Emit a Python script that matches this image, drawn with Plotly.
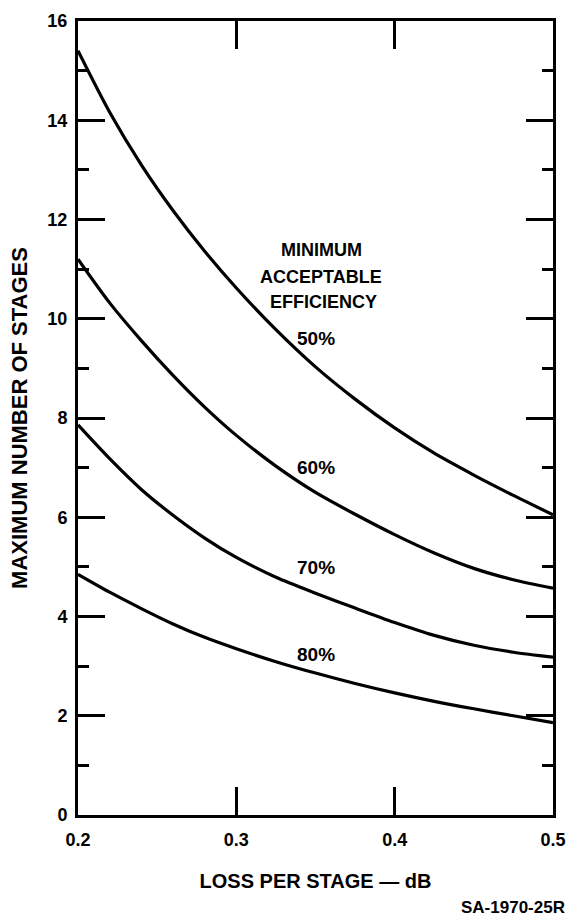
import plotly.graph_objects as go

# Loss per stage (dB)
loss_db = [0.20, 0.22, 0.24, 0.26, 0.28, 0.30, 0.325, 0.35, 0.375, 0.40, 0.425, 0.45, 0.475, 0.50]

# Maximum number of stages for each minimum acceptable efficiency
stages_50 = [15.4, 14.16, 13.1, 12.18, 11.36, 10.62, 9.78, 9.03, 8.38, 7.8, 7.29, 6.85, 6.44, 6.05]
stages_60 = [11.2, 10.32, 9.56, 8.86, 8.22, 7.65, 7.03, 6.50, 6.06, 5.65, 5.28, 4.97, 4.74, 4.57]
stages_70 = [7.86, 7.18, 6.56, 6.04, 5.58, 5.19, 4.79, 4.47, 4.17, 3.88, 3.62, 3.42, 3.28, 3.18]
stages_80 = [4.85, 4.49, 4.16, 3.85, 3.58, 3.35, 3.09, 2.86, 2.65, 2.46, 2.29, 2.14, 2.00, 1.86]

series_labels = ["50%", "60%", "70%", "80%"]
label_x = [0.3505, 0.3505, 0.3505, 0.3505]
label_y = [9.6, 7.0, 4.98, 3.23]

x_tickvals = [0.2, 0.3, 0.4, 0.5]
x_ticktext = ["0.2", "0.3", "0.4", "0.5"]
y_tickvals = [0, 2, 4, 6, 8, 10, 12, 14, 16]
y_ticktext = ["0", "2", "4", "6", "8", "10", "12", "14", "16"]

legend_lines = ["MINIMUM", "ACCEPTABLE", "EFFICIENCY"]
legend_x = [0.3535, 0.3535, 0.355]
legend_y = [11.39, 10.85, 10.34]

FONT = "Liberation Sans, Arial, Helvetica, sans-serif"

fig = go.Figure()
for ys, name in zip([stages_50, stages_60, stages_70, stages_80], series_labels):
    fig.add_trace(go.Scatter(
        x=loss_db, y=ys, mode="lines", name=name,
        line=dict(color="black", width=3.2, shape="spline", smoothing=0.8),
        showlegend=False, hoverinfo="x+y+name",
    ))

for txt, x, y in zip(series_labels, label_x, label_y):
    fig.add_annotation(x=x, y=y, text=txt, showarrow=False,
                       font=dict(family=FONT, size=19, color="black", weight="bold"),
                       xanchor="center", yanchor="middle")

for txt, x, y in zip(legend_lines, legend_x, legend_y):
    fig.add_annotation(x=x, y=y, text=txt, showarrow=False,
                       font=dict(family=FONT, size=18, color="black", weight="bold"),
                       xanchor="center", yanchor="middle")

fig.add_annotation(xref="paper", yref="paper", x=1.029, y=-0.117,
                   text="SA-1970-25R", showarrow=False,
                   font=dict(family=FONT, size=17, color="black", weight="bold"),
                   xanchor="right", yanchor="middle")

fig.update_xaxes(
    range=[0.2, 0.5], tickvals=x_tickvals, ticktext=x_ticktext,
    ticks="inside", ticklen=28, tickwidth=2.5, tickcolor="black",
    showline=True, linewidth=3, linecolor="black", mirror="allticks",
    showgrid=False, zeroline=False, automargin=False,
    tickfont=dict(family=FONT, size=18, color="black", weight="bold"),
    ticklabelstandoff=6,
    title=dict(text="LOSS PER STAGE — dB", standoff=26,
               font=dict(family=FONT, size=20, color="black", weight="bold")),
)
fig.update_yaxes(
    range=[0, 16], tickvals=y_tickvals, ticktext=y_ticktext,
    ticks="inside", ticklen=27, tickwidth=2.5, tickcolor="black",
    minor=dict(dtick=1, ticks="inside", ticklen=11, tickwidth=2.5, tickcolor="black"),
    showline=True, linewidth=3, linecolor="black", mirror="allticks",
    showgrid=False, zeroline=False, automargin=False,
    tickfont=dict(family=FONT, size=18, color="black", weight="bold"),
    ticklabelstandoff=4,
    title=dict(text="MAXIMUM NUMBER OF STAGES", standoff=14,
               font=dict(family=FONT, size=22, color="black", weight="bold")),
)

fig.update_layout(
    width=570, height=917,
    margin=dict(l=78, r=17, t=21, b=102),
    paper_bgcolor="white", plot_bgcolor="white",
    showlegend=False,
)

fig.write_html("out.html", config={"displayModeBar": False},
               post_script="document.body.style.margin='0';")
